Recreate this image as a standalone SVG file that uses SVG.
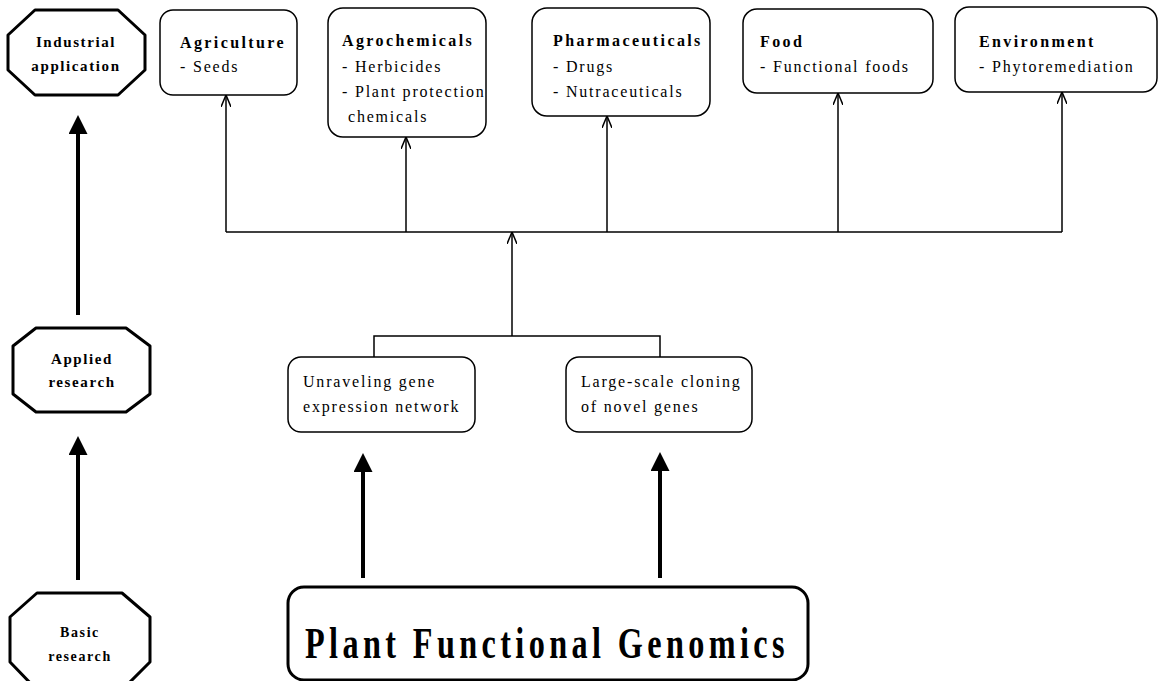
<svg xmlns="http://www.w3.org/2000/svg" width="1160" height="681" viewBox="0 0 1160 681">
<defs>
<style>
.oct{fill:#fff;stroke:#000;stroke-width:3;stroke-linejoin:round}
.box{fill:#fff;stroke:#000;stroke-width:1.5}
.big{fill:#fff;stroke:#000;stroke-width:3}
.t{font-family:"Liberation Serif","Times New Roman",serif;font-size:16px;letter-spacing:1.8px;fill:#000}
.b{font-weight:bold;letter-spacing:2.4px}
.o{font-family:"Liberation Serif","Times New Roman",serif;font-weight:bold;font-size:15px;letter-spacing:1.6px;text-anchor:middle;fill:#000}
.thin{fill:none;stroke:#000;stroke-width:1.5}
.thick{fill:none;stroke:#000;stroke-width:4}
</style>
<marker id="open" viewBox="0 0 12 10" markerWidth="12" markerHeight="10" refX="12" refY="5" orient="auto" markerUnits="userSpaceOnUse">
<path d="M0,0 L12,5 L0,10" fill="none" stroke="#000" stroke-width="1.5"/>
</marker>
<marker id="solid" viewBox="0 0 19 19" markerWidth="19" markerHeight="19" refX="0" refY="9.5" orient="auto" markerUnits="userSpaceOnUse">
<path d="M0,0 L19,9.5 L0,19 Z" fill="#000"/>
</marker>
</defs>
<rect width="1160" height="681" fill="#fff"/>

<g id="industrial">
<polygon class="oct" points="35,10 118,10 145,35 145,70 118,95 35,95 8,70 8,35"/>
<text class="o" x="76" y="47">Industrial</text>
<text class="o" x="76" y="71">application</text>
</g>
<g id="applied">
<polygon class="oct" points="36,328 126,328 150,346 150,394 126,412 36,412 13,394 13,346"/>
<text class="o" x="82" y="364">Applied</text>
<text class="o" x="82" y="387">research</text>
</g>
<g id="basic">
<polygon class="oct" points="37,593 122,593 150,617 150,662 122,690 37,690 10,662 10,617"/>
<text class="o" x="80" y="637" style="font-size:14px">Basic</text>
<text class="o" x="80" y="661" style="font-size:14px">research</text>
</g>

<g id="agriculture">
<rect class="box" x="160" y="10" width="137" height="85" rx="13"/>
<text class="t b" x="180" y="48">Agriculture</text>
<text class="t" x="180" y="72">- Seeds</text>
</g>
<g id="agrochemicals">
<rect class="box" x="328" y="8" width="158" height="129" rx="15"/>
<text class="t b" x="342" y="46">Agrochemicals</text>
<text class="t" x="342" y="72">- Herbicides</text>
<text class="t" x="342" y="97">- Plant protection</text>
<text class="t" x="348" y="122">chemicals</text>
</g>
<g id="pharmaceuticals">
<rect class="box" x="532" y="8" width="178" height="108" rx="15"/>
<text class="t b" x="553" y="46">Pharmaceuticals</text>
<text class="t" x="553" y="72">- Drugs</text>
<text class="t" x="553" y="97">- Nutraceuticals</text>
</g>
<g id="food">
<rect class="box" x="743" y="9" width="190" height="84" rx="14"/>
<text class="t b" x="760" y="47">Food</text>
<text class="t" x="760" y="72">- Functional foods</text>
</g>
<g id="environment">
<rect class="box" x="955" y="7" width="202" height="85" rx="14"/>
<text class="t b" x="979" y="47">Environment</text>
<text class="t" x="979" y="72">- Phytoremediation</text>
</g>

<g id="unraveling">
<rect class="box" x="288" y="357" width="187" height="75" rx="13"/>
<text class="t" x="303" y="387">Unraveling gene</text>
<text class="t" x="303" y="412">expression network</text>
</g>
<g id="cloning">
<rect class="box" x="566" y="357" width="186" height="75" rx="13"/>
<text class="t" x="581" y="387">Large-scale cloning</text>
<text class="t" x="581" y="412">of novel genes</text>
</g>

<g id="plant">
<rect class="big" x="288" y="587" width="520" height="93" rx="16"/>
<text x="305" y="658" style="font-family:'Liberation Serif','Times New Roman',serif;font-weight:bold;font-size:44px;letter-spacing:6px" textLength="484" lengthAdjust="spacingAndGlyphs">Plant Functional Genomics</text>
</g>

<g id="connectors">
<path class="thin" d="M226,232 H1062"/>
<path class="thin" d="M226,232 V95" marker-end="url(#open)"/>
<path class="thin" d="M406,232 V137" marker-end="url(#open)"/>
<path class="thin" d="M607,232 V116" marker-end="url(#open)"/>
<path class="thin" d="M838,232 V93" marker-end="url(#open)"/>
<path class="thin" d="M1062,232 V92" marker-end="url(#open)"/>
<path class="thin" d="M512,336 V232" marker-end="url(#open)"/>
<path class="thin" d="M374,357 V336 H660 V357"/>
<path class="thick" d="M78,315 V134" marker-end="url(#solid)"/>
<path class="thick" d="M78,580 V455" marker-end="url(#solid)"/>
<path class="thick" d="M363,578 V472" marker-end="url(#solid)"/>
<path class="thick" d="M660,578 V471" marker-end="url(#solid)"/>
</g>
</svg>
